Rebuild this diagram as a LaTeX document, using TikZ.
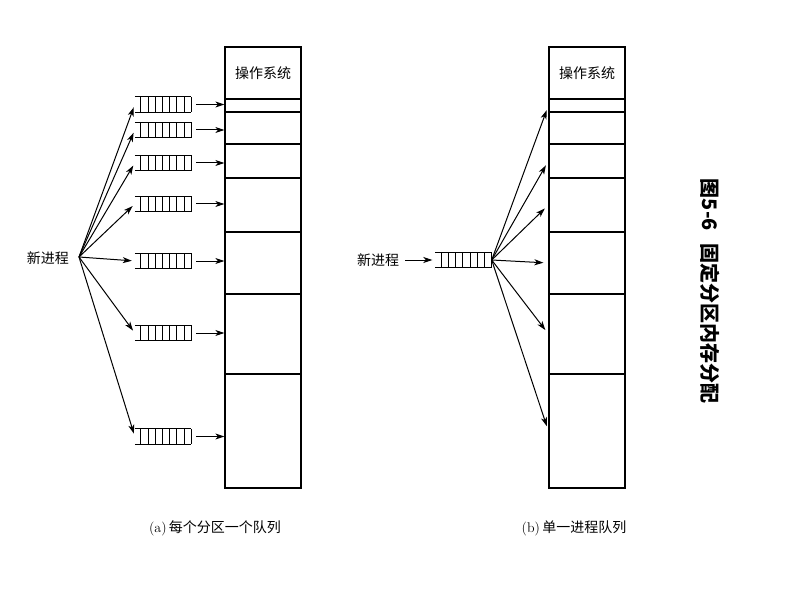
\documentclass[tikz,border=0pt]{standalone}
\usepackage{fontspec}
\newfontfamily\cjk{Noto Sans CJK SC}
\usetikzlibrary{arrows.meta}
\tikzset{%
  part/.style={draw, line width=1.2pt, minimum width=76pt, inner sep=0pt},
  queue/.style={minimum width=56pt, minimum height=15pt, inner sep=0pt},
  arr/.style={-{Stealth[length=9pt, width=6pt, inset=2.5pt]}, line width=1pt},
  lbl/.style={font=\cjk\fontsize{14}{14}\selectfont, inner sep=0pt},
}
% queue: open at the left, 7 cells
\newcommand{\drawqueue}[1]{%
  \draw[line width=1pt] (#1.north west) -- (#1.north east) (#1.south west) -- (#1.south east);
  \foreach \k in {0,...,7}
    \draw[line width=1pt] ([xshift=-\k*7.2pt]#1.north east) -- ([xshift=-\k*7.2pt]#1.south east);
}

\begin{document}
\begin{tikzpicture}[x=1pt, y=-1pt]
    \useasboundingbox (0,0) rectangle (796,591);

    %(a) one queue per partition
    \node[part, lbl, minimum height=52pt] (osa) at (263,73) {操作系统};
    \foreach \t/\b [count=\i] in {99/112,112/144,144/178,178/232,232/294,294/374,374/488}
        \node[part, minimum height={(\b-\t)*1pt}] (a\i) at (263,{(\t+\b)/2}) {};

    \node[lbl] (na) at (48,258) {新进程};
    \coordinate (fa) at (79,257);

    \foreach \y [count=\i] in {104.5,130,163,204,261,333,436.5} {
        \node[queue] (qa\i) at (163,\y) {};
        \drawqueue{qa\i}
        \draw[arr, shorten >=3pt] (fa) -- (qa\i.west);
        \draw[arr, shorten <=5pt] (qa\i.east) -- (qa\i.east -| a\i.west);
    }

    %(b) single queue
    \node[part, lbl, minimum height=52pt] (osb) at (587,73) {操作系统};
    \foreach \t/\b [count=\i] in {99/112,112/144,144/178,178/232,232/294,294/374,374/488}
        \node[part, minimum height={(\b-\t)*1pt}] (b\i) at (587,{(\t+\b)/2}) {};

    \node[lbl] (nb) at (378,260) {新进程};
    \node[queue] (qb) at (463.5,260) {};
    \drawqueue{qb}
    \draw[arr, shorten <=6pt, shorten >=3pt] (nb.east) -- (qb.west);
    \foreach \i in {1,3,4,5,6,7}
        \draw[arr, shorten >=5pt] (qb.east) -- (b\i.west);

    % captions
    \node[lbl] (capa) at (215,528) {{\rmfamily(a)}\,每个分区一个队列};
    \node[lbl] (capb) at (574,528) {{\rmfamily(b)}\,单一进程队列};
    \node[rotate=-90, inner sep=0pt, font=\cjk\bfseries\fontsize{20}{20}\selectfont] (title) at (710,291) {图5-6\hspace{0.6em}固定分区内存分配};
\end{tikzpicture}
\end{document}
